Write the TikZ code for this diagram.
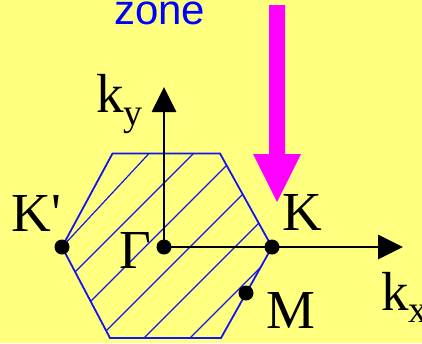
\documentclass[tikz,border=0pt]{standalone}
\usepackage{fontspec}
\setmainfont{Liberation Serif}
\newfontfamily\labelfont{Liberation Serif}
\newfontfamily\zonefont{Liberation Sans}
\usetikzlibrary{arrows.meta}
\definecolor{bgyellow}{RGB}{255,255,128}
\definecolor{hexblue}{RGB}{20,20,240}
\definecolor{arrowmag}{RGB}{255,0,255}
\tikzset{
  bzedge/.style={draw=hexblue, line width=1.8pt, line join=miter},
  hatchline/.style={draw=hexblue, line width=1.2pt},
  axisline/.style={draw=black, line width=2.8pt, -{Triangle[length=25pt,width=24pt]}},
  kpoint/.style={circle, fill=black, inner sep=0pt, minimum size=15pt},
  biglabel/.style={anchor=base west, inner sep=0pt, outer sep=0pt, font=\labelfont\fontsize{55}{60}\selectfont},
}
\newcommand{\subfs}{\fontsize{38}{40}\selectfont}
\begin{document}
\begin{tikzpicture}[x=1pt,y=-1pt]
\fill[bgyellow] (0,0) rectangle (422,343);
\useasboundingbox (0,0) rectangle (422,343);

% hexagon vertices
\coordinate (vL) at (62,247);
\coordinate (vTL) at (112.5,153.5);
\coordinate (vTR) at (220,153.5);
\coordinate (vR) at (272,247);
\coordinate (vBR) at (221,338);
\coordinate (vBL) at (110,338);

% hatching
\begin{scope}
  \clip (vL) -- (vTL) -- (vTR) -- (vR) -- (vBR) -- (vBL) -- cycle;
  \draw[hatchline] (vL) -- (149,153.5);
  \foreach \c in {347,392,437,482,528}{
    \draw[hatchline] (\c-360,360) -- (\c-100,100);
  }
\end{scope}
\draw[bzedge] (vL) -- (vTL) -- (vTR) -- (vR) -- (vBR) -- (vBL) -- cycle;

% points
\node[kpoint] (Kp) at (62,247) {};
\node[kpoint] (G) at (164,247) {};
\node[kpoint] (K) at (272,247) {};
\node[kpoint] (M) at (246,293) {};

% axes
\coordinate (kxtip) at (403,247);
\coordinate (kytip) at (164,87);
\draw[axisline] (G.center) -- (kxtip);
\draw[axisline] (G.center) -- (kytip);

% magenta arrow
\fill[arrowmag] (269,5) -- (285,5) -- (285,154) -- (301,154) -- (277,202) -- (253,154) -- (269,154) -- cycle;

% labels
\node[anchor=base west, inner sep=0pt, text=blue, font=\zonefont\fontsize{42}{44}\selectfont] (zone) at (114,24) {zone};
\node[biglabel] (lKp) at (12,231) {K'};
\node[biglabel] (lK) at (282,230) {K};
\node[biglabel] (lG) at (119,268) {Γ};
\node[biglabel] (lM) at (266,328) {M};
\node[biglabel] (lky) at (96,112) {k\raisebox{-13pt}{\subfs y}};
\node[biglabel] (lkx) at (381,310) {k\raisebox{-12pt}{\subfs x}};
\end{tikzpicture}
\end{document}
